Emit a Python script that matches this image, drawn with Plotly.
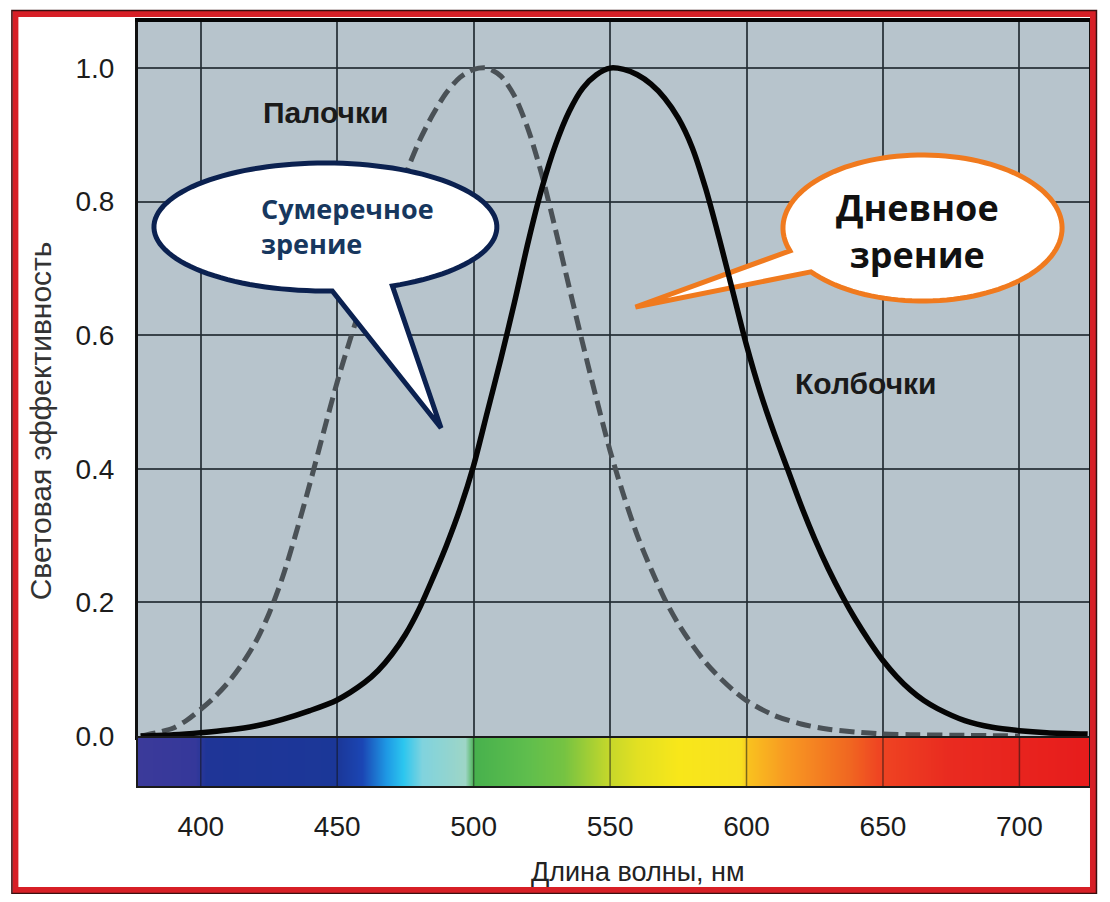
import numpy as np
import plotly.graph_objects as go

# photopic (cones) curve
PHOTOPIC_NM = [378, 390, 400, 410, 420, 430, 440, 450, 460, 465, 470, 475, 480, 485, 490,
               495, 500, 505, 510, 515, 520, 525, 530, 535, 540, 545, 550, 555, 560, 565,
               570, 575, 580, 585, 590, 595, 600, 605, 610, 615, 620, 625, 630, 635, 640,
               645, 650, 655, 660, 665, 670, 680, 690, 700, 710, 725]
PHOTOPIC_V = [0.0, 0.002, 0.005, 0.009, 0.015, 0.025, 0.038, 0.054, 0.08, 0.098, 0.122, 0.152,
              0.19, 0.236, 0.285, 0.34, 0.405, 0.485, 0.565, 0.65, 0.74, 0.82, 0.885, 0.935,
              0.97, 0.99, 1.0, 0.998, 0.99, 0.976, 0.955, 0.925, 0.882, 0.82, 0.745, 0.665,
              0.585, 0.515, 0.455, 0.40, 0.345, 0.295, 0.25, 0.21, 0.174, 0.142, 0.113, 0.089,
              0.069, 0.053, 0.041, 0.023, 0.013, 0.008, 0.005, 0.003]

# scotopic (rods) curve
SCOTOPIC_NM = [378, 385, 390, 395, 400, 405, 410, 415, 420, 425, 430, 435, 440, 445, 450,
               455, 460, 465, 470, 475, 480, 485, 490, 495, 500, 505, 510, 515, 520, 525,
               530, 535, 540, 545, 550, 555, 560, 565, 570, 575, 580, 585, 590, 595, 600,
               610, 620, 630, 640, 650, 660, 680, 700]
SCOTOPIC_V = [0.0, 0.006, 0.012, 0.024, 0.04, 0.058, 0.08, 0.107, 0.14, 0.183, 0.238, 0.305,
              0.378, 0.455, 0.53, 0.597, 0.66, 0.72, 0.78, 0.84, 0.89, 0.93, 0.963, 0.986,
              0.998, 1.0, 0.988, 0.958, 0.908, 0.84, 0.758, 0.672, 0.587, 0.505, 0.427, 0.36,
              0.30, 0.25, 0.205, 0.168, 0.137, 0.11, 0.088, 0.069, 0.053, 0.031, 0.018, 0.01,
              0.006, 0.003, 0.002, 0.001, 0.0]

# colour band under the axis
SPECTRUM_NM = [377, 398, 402, 450, 459, 468, 474, 481, 497, 500, 520, 533, 550, 560, 575,
               598, 601, 614, 638, 648, 674, 726]
SPECTRUM_COLORS = ['#3b3a9a', '#35389a', '#1f3597', '#1b3798', '#1b46b4', '#1e98e4',
                   '#2cc6ef', '#80d3de', '#9ed5c6', '#47b14d', '#5fbe4d', '#76c342',
                   '#c7d82a', '#e2e022', '#f8e71a', '#f8e020', '#f9c01f', '#f89a22',
                   '#f06621', '#ef4522', '#e92b20', '#e71c1c']

X_TICKS = [400, 450, 500, 550, 600, 650, 700]
Y_TICKS = [0.0, 0.2, 0.4, 0.6, 0.8, 1.0]

XR = [377, 725.5]
YR = [0, 1.069]

# plot area in page pixels; the page body adds an 8px margin
OFF = 8
L, R, T, Y0, B = 138, 1092, 22, 736, 786
FIG_W, FIG_H = 1110 - 2 * OFF, 902 - 2 * OFF


def dx(x):
    return XR[0] + (x - L) * (XR[1] - XR[0]) / (R - L)


def dy(y):
    return (Y0 - y) * (YR[1] - YR[0]) / (Y0 - T)


def px(x):
    return (x - L) / (R - L)


def py(y):
    return (B - y) / (B - T)


def bubble(cx, cy, rx, ry, a0, a1, tip, n=120):
    # ellipse from angle a0 round to a1 (pixel space, y down), then out to the tip
    t = np.radians(np.linspace(a0, a1, n))
    xs = cx + rx * np.cos(t)
    ys = cy + ry * np.sin(t)
    pts = [(dx(x), dy(y)) for x, y in zip(xs, ys)] + [(dx(tip[0]), dy(tip[1]))]
    return "M " + " L ".join(f"{a:.4f},{b:.5f}" for a, b in pts) + " Z"


lo, hi = SPECTRUM_NM[0], SPECTRUM_NM[-1]
cscale = [[(n - lo) / (hi - lo), c] for n, c in zip(SPECTRUM_NM, SPECTRUM_COLORS)]

fig = go.Figure()

fig.add_trace(go.Heatmap(x=SPECTRUM_NM, y=[0, 1], z=[SPECTRUM_NM, SPECTRUM_NM],
                         colorscale=cscale, zsmooth='best', showscale=False,
                         hoverinfo='skip', xaxis='x2', yaxis='y2'))

fig.add_trace(go.Scatter(x=SCOTOPIC_NM, y=SCOTOPIC_V, mode='lines', name='Палочки',
                         line=dict(color='#4a5156', width=5, dash='15px,7px', shape='spline',
                                   smoothing=0.8),
                         showlegend=False))
fig.add_trace(go.Scatter(x=PHOTOPIC_NM, y=PHOTOPIC_V, mode='lines', name='Колбочки',
                         line=dict(color='#050505', width=5.5, shape='spline', smoothing=0.8),
                         showlegend=False))

shapes = []
# day-vision bubble sits under the curve
shapes.append(dict(type='path', xref='x', yref='y', layer='between',
                   path=bubble(925, 228, 140, 73, 161.8, 143.1 + 360, (637, 307)),
                   fillcolor='white', line=dict(color='#f07a1e', width=5)))
# twilight-vision bubble covers the dashed curve
shapes.append(dict(type='path', xref='x', yref='y', layer='above',
                   path=bubble(326, 227, 172, 64, 87.7, 67 + 360, (442, 428)),
                   fillcolor='white', line=dict(color='#0b2150', width=5)))
# tick lines across the colour band
for t in X_TICKS:
    shapes.append(dict(type='line', xref='x2', yref='y2 domain', x0=t, x1=t, y0=0, y1=1,
                       layer='above', line=dict(color='rgba(20,20,20,0.55)', width=1.5)))
# red frame
shapes.append(dict(type='rect', xref='paper', yref='paper', layer='above',
                   x0=px(15), x1=px(1096), y0=py(890), y1=py(14),
                   line=dict(color='#d71f26', width=6)))
shapes.append(dict(type='rect', xref='paper', yref='paper', layer='above',
                   x0=px(11.5), x1=px(1099.5), y0=py(893.5), y1=py(10.5),
                   line=dict(color='#3a1010', width=1.5)))

tick_font = dict(family='Liberation Sans, Arial, sans-serif', size=28, color='#1c1c1c')
label_font = dict(family='Liberation Sans, Arial, sans-serif', size=30, color='#1a1a1a')

annotations = [
    dict(xref='x', yref='y', x=dx(326), y=dy(112), text='<b>Палочки</b>',
         showarrow=False, font=label_font),
    dict(xref='x', yref='y', x=dx(868), y=dy(383), text='<b>Колбочки</b>',
         showarrow=False, font=label_font),
    dict(xref='x', yref='y', x=dx(259), y=dy(226), text='<b>Сумеречное<br>зрение</b>',
         showarrow=False, xanchor='left', align='left',
         font=dict(family='Open Sans, sans-serif', size=27, color='#17375e')),
    dict(xref='x', yref='y', x=dx(920), y=dy(231), text='<b>Дневное<br>зрение</b>',
         showarrow=False,
         font=dict(family='Open Sans, sans-serif', size=36, color='#111111')),
    dict(xref='paper', yref='paper', x=px(40), y=py(421), text='Световая эффективность',
         textangle=-90, showarrow=False, xanchor='center', yanchor='middle',
         font=dict(family='Liberation Sans, Arial, sans-serif', size=30, color='#333333')),
    dict(xref='paper', yref='paper', x=px(640), y=py(872), text='Длина волны, нм',
         showarrow=False, xanchor='center', yanchor='middle',
         font=dict(family='Liberation Sans, Arial, sans-serif', size=27, color='#222222')),
]

fig.update_layout(
    width=FIG_W, height=FIG_H,
    margin=dict(l=L - OFF, r=FIG_W + OFF - R, t=T - OFF, b=FIG_H + OFF - B),
    paper_bgcolor='white', plot_bgcolor='#b7c4cc',
    xaxis=dict(anchor='y', domain=[0, 1], range=XR, tickvals=X_TICKS, showticklabels=False,
               showgrid=True, gridcolor='rgba(35,45,50,0.85)', gridwidth=2,
               zeroline=False, showline=True, linecolor='#050505', linewidth=4, mirror=True,
               ticks=''),
    yaxis=dict(anchor='x', domain=[(B - Y0) / (B - T), 1], range=YR, tickvals=Y_TICKS,
               ticktext=[f'{v:.1f}' for v in Y_TICKS], tickfont=tick_font,
               showgrid=True, gridcolor='rgba(35,45,50,0.85)', gridwidth=2,
               zeroline=False, showline=True, linecolor='#101010', linewidth=3, mirror=True,
               ticks='', ticklabelstandoff=15),
    xaxis2=dict(anchor='y2', domain=[0, 1], matches='x', range=XR, tickvals=X_TICKS,
                tickfont=tick_font, showgrid=False, zeroline=False, showline=True,
                linecolor='#1a1a1a', linewidth=2, mirror=True, ticks='',
                ticklabelstandoff=14),
    yaxis2=dict(anchor='x2', domain=[0, (B - 737.5) / (B - T)], range=[0, 1],
                showticklabels=False, showgrid=False, zeroline=False, showline=True,
                linecolor='#1a1a1a', linewidth=2, mirror=True, ticks=''),
    shapes=shapes,
    annotations=annotations,
)

fig.write_html("out.html")
